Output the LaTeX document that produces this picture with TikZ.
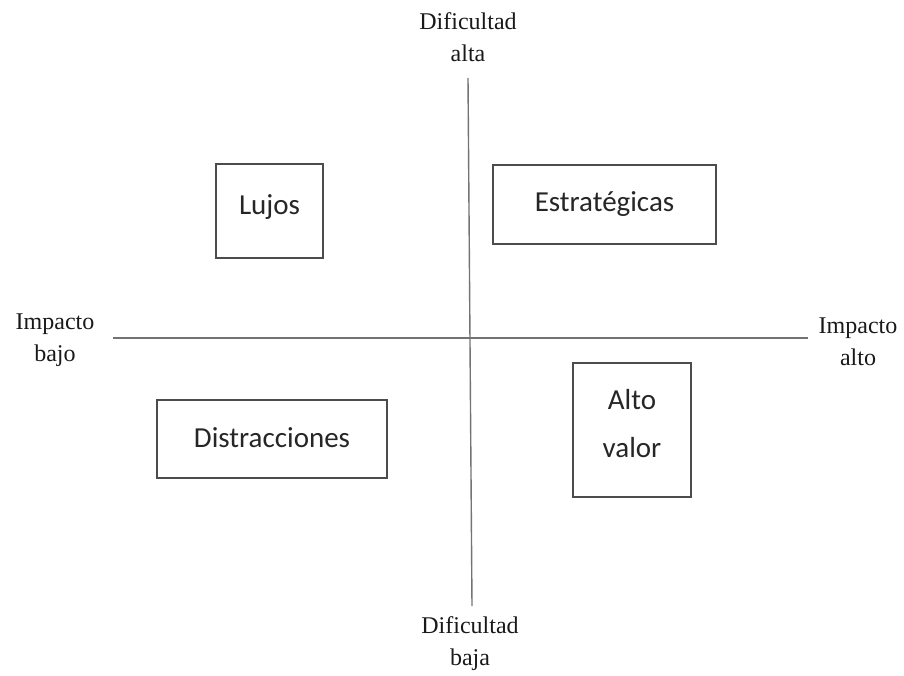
\documentclass[tikz,border=0pt]{standalone}
\usepackage{fontspec}
\usepackage{tikz}
\usetikzlibrary{positioning}
\newfontfamily\boxfont{Carlito}
\newfontfamily\axisfont{Liberation Serif}

\begin{document}
\begin{tikzpicture}[x=1pt,y=-1pt,
    quad/.style={draw=black!70,line width=1.6pt,fill=white,inner sep=0pt,text=black!85,
        font=\boxfont\fontsize{29}{48}\selectfont,align=center},
    axislbl/.style={text=black!90,inner sep=0pt,font=\axisfont\fontsize{24}{32}\selectfont,align=center},
    axis/.style={draw=black!55,line width=1.4pt}]

\useasboundingbox (0,0) rectangle (904,675);

\coordinate (top)    at (468,78);
\coordinate (bottom) at (472,606);
\coordinate (left)   at (113,338);
\coordinate (right)  at (808,338);

\foreach \f/\t in {% start/end
	 top/bottom,
	 left/right}
	\path[axis]  (\f) edge (\t);

\node[quad,minimum width=107pt,minimum height=94pt]  (lujos)  at (269.5,211)  {\raisebox{12pt}{Lujos}};
\node[quad,minimum width=223pt,minimum height=79pt]  (estrat) at (604.5,204.5) {\raisebox{2pt}{Estratégicas}};
\node[quad,minimum width=230pt,minimum height=78pt]  (distr)  at (272,439)    {\raisebox{2pt}{Distracciones}};
\node[quad,minimum width=118pt,minimum height=134pt] (alto)   at (632,430)    {\raisebox{0pt}[0pt][0pt]{\begin{tabular}{@{}c@{}}Alto\\valor\end{tabular}}};

\node[axislbl] (difalta) at (468,37)  {Dificultad\\alta};
\node[axislbl] (difbaja) at (470,644) {Dificultad\\baja};
\node[axislbl] (impbajo) at (55,340)  {Impacto\\bajo};
\node[axislbl] (impalto) at (858,342) {Impacto\\alto};

\end{tikzpicture}
\end{document}
